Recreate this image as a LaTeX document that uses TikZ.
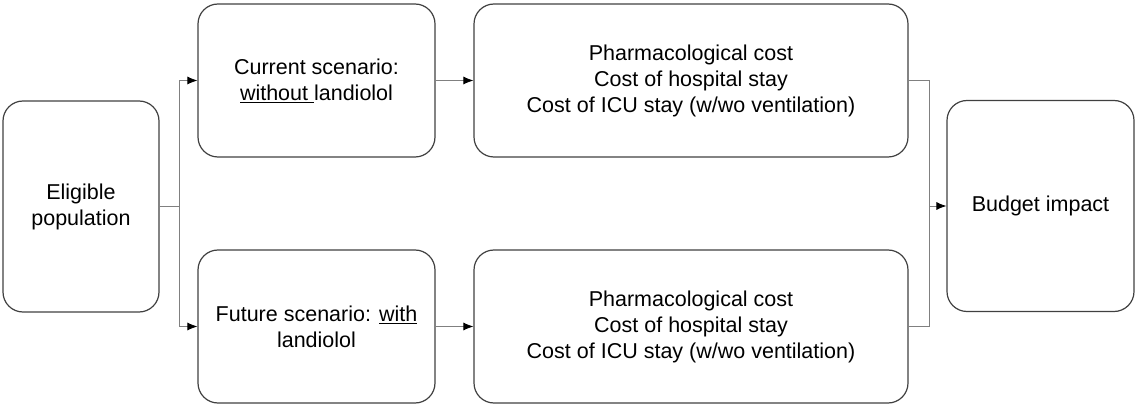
\documentclass[tikz,border=0pt]{standalone}
\usepackage{fontspec}
\setmainfont{Liberation Sans}
\usetikzlibrary{arrows.meta}

\begin{document}
\begin{tikzpicture}[x=1pt,y=-1pt,
    box/.style={draw=black!75, line width=1.2pt, rounded corners=20pt, align=center,
        inner sep=0pt, font=\fontsize{21.5}{26}\selectfont},
    link/.style={draw=black!50, line width=0.8pt},
    >={Latex[length=10pt,width=8pt,color=black]}]
    \useasboundingbox (0,0) rectangle (1136,406);
    % Population
    \node[box, minimum width=156pt, minimum height=211pt] (elig) at (81,206.5) {Eligible\\population};
    % Scenarios
    \node[box, minimum width=237pt, minimum height=153pt] (curr) at (316.5,80.5) {Current scenario:\\\underline{without\ }landiolol};
    \node[box, minimum width=237pt, minimum height=153pt] (fut) at (316.5,326.5) {Future scenario: \underline{with}\\landiolol};
    % Costs
    \node[box, minimum width=434pt, minimum height=153pt] (costA) at (691,80.5) {Pharmacological cost\\Cost of hospital stay\\Cost of ICU stay (w/wo ventilation)};
    \node[box, minimum width=434pt, minimum height=153pt] (costB) at (691,326.5) {Pharmacological cost\\Cost of hospital stay\\Cost of ICU stay (w/wo ventilation)};
    % Result
    \node[box, minimum width=187pt, minimum height=211pt] (budget) at (1040.5,206) {Budget impact};

    % Connectors
    \coordinate (split) at (179,206.5);
    \coordinate (join) at (929,206);
    \draw[link] (elig.east) -- (split);
    \draw[link,->] (split) |- (curr.west);
    \draw[link,->] (split) |- (fut.west);
    \draw[link,->] (curr) -- (costA);
    \draw[link,->] (fut) -- (costB);
    \draw[link] (costA.east) -| (join);
    \draw[link] (costB.east) -| (join);
    \draw[link,->] (join) -- (budget.west);
\end{tikzpicture}
\end{document}
